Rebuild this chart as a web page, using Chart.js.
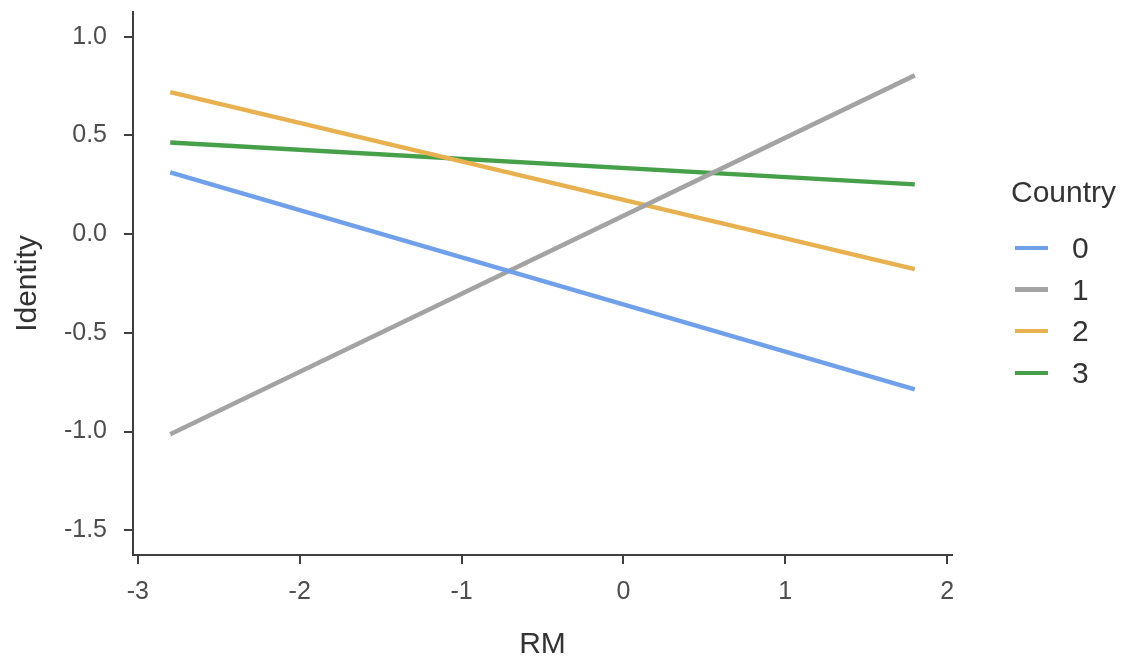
<!DOCTYPE html>
<html>
<head>
<meta charset="utf-8">
<script src="https://cdn.jsdelivr.net/npm/chart.js@4/dist/chart.umd.min.js"></script>
<style>
  html, body { margin: 0; padding: 0; background: #ffffff; }
  #wrap { position: relative; width: 1126px; height: 660px; }
  #plot { position: absolute; left: 0; top: 0; }
  #legend {
    position: absolute; left: 1011px; top: 177px;
    font-family: "Liberation Sans", Arial, sans-serif; color: #333333;
  }
  #legend .title { font-size: 30px; line-height: 30px; height: 50px; }
  #legend .row { display: flex; align-items: center; height: 41.7px; font-size: 30px; line-height: 41.7px; }
  #legend .swatch { width: 33px; height: 4.5px; margin-left: 4px; margin-right: 24px; }
</style>
</head>
<body>
<div id="wrap">
  <canvas id="plot" width="1126" height="660"></canvas>
  <div id="legend"></div>
</div>
<script>
// Fitted lines of Identity against RM, one per country
const rmRange = [-2.8, 1.8];
const country0 = [0.313, -0.786];
const country1 = [-1.013, 0.804];
const country2 = [0.719, -0.177];
const country3 = [0.464, 0.252];

const countryNames = ['0', '1', '2', '3'];
const countryColors = ['#70a0ea', '#a3a3a3', '#e8b04e', '#46a04a'];

const xTickValues = [-3, -2, -1, 0, 1, 2];
const yTickValues = [-1.5, -1.0, -0.5, 0.0, 0.5, 1.0];

const seriesValues = [country0, country1, country2, country3];

const axisInk = '#3f3f3f';
const tickInk = '#4d4d4d';
const titleInk = '#333333';
const fontFamily = '"Liberation Sans", Arial, sans-serif';

const datasets = seriesValues.map((vals, i) => ({
  label: countryNames[i],
  data: rmRange.map((x, j) => ({ x: x, y: vals[j] })),
  borderColor: countryColors[i],
  backgroundColor: countryColors[i],
  borderWidth: 4.5,
  pointRadius: 0,
  tension: 0,
  fill: false
}));

function axisStyle(tickPadding) {
  return {
    grid: { display: true, drawOnChartArea: false, drawTicks: true, tickLength: 9, color: axisInk, lineWidth: 2 },
    border: { display: true, color: axisInk, width: 2 },
    ticks: { color: tickInk, font: { family: fontFamily, size: 25 }, padding: tickPadding }
  };
}

const xAxis = Object.assign(axisStyle(13), {
  type: 'linear',
  min: -3.03,
  max: 2.03,
  afterBuildTicks: (scale) => { scale.ticks = xTickValues.map(v => ({ value: v })); },
  afterFit: (scale) => {
    scale.height = 105;
    scale.paddingLeft = 0;
    scale.paddingRight = 0;
  },
  title: { display: true, text: 'RM', color: titleInk, font: { family: fontFamily, size: 30, lineHeight: 1 }, padding: { top: 0, bottom: 0 } }
});
xAxis.ticks.callback = (v) => String(v);

const yAxis = Object.assign(axisStyle(17), {
  type: 'linear',
  min: -1.625,
  max: 1.125,
  afterBuildTicks: (scale) => { scale.ticks = yTickValues.map(v => ({ value: v })); },
  afterFit: (scale) => {
    scale.width = 133;
    scale.paddingTop = 0;
    scale.paddingBottom = 0;
  },
  title: { display: true, text: 'Identity', color: titleInk, font: { family: fontFamily, size: 30 }, padding: { top: 10, bottom: 0 } }
});
yAxis.ticks.callback = (v) => Number(v).toFixed(1);

const chart = new Chart(document.getElementById('plot'), {
  type: 'line',
  data: { datasets: datasets },
  options: {
    responsive: false,
    animation: false,
    devicePixelRatio: 1,
    layout: { padding: { top: 12, left: 0, right: 174, bottom: 0 } },
    plugins: { legend: { display: false }, tooltip: { enabled: false } },
    scales: { x: xAxis, y: yAxis }
  }
});

// Legend built from the chart's own datasets
const legendEl = document.getElementById('legend');
const head = document.createElement('div');
head.className = 'title';
head.textContent = 'Country';
legendEl.appendChild(head);
chart.data.datasets.forEach((ds) => {
  const row = document.createElement('div');
  row.className = 'row';
  const sw = document.createElement('span');
  sw.className = 'swatch';
  sw.style.background = ds.borderColor;
  const txt = document.createElement('span');
  txt.textContent = ds.label;
  row.appendChild(sw);
  row.appendChild(txt);
  legendEl.appendChild(row);
});
</script>
</body>
</html>
